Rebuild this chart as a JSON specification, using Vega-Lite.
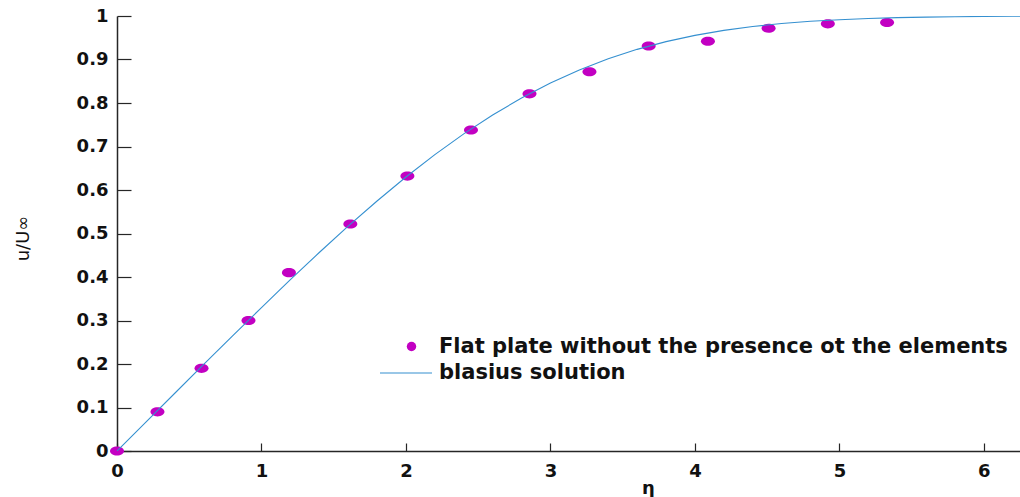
{
  "$schema": "https://vega.github.io/schema/vega-lite/v6.json",
  "autosize": "none",
  "padding": {"left": 117, "top": 16, "right": 0, "bottom": 46},
  "width": 903,
  "height": 435,
  "background": "white",
  "config": {
    "view": {"stroke": null},
    "font": "DejaVu Sans",
    "axis": {
      "grid": false,
      "labelFont": "DejaVu Sans",
      "labelFontWeight": "bold",
      "labelFontSize": 18,
      "labelColor": "#111111",
      "labelFlush": false,
      "titleFont": "DejaVu Sans",
      "titleFontWeight": "bold",
      "titleFontSize": 18,
      "titleColor": "#111111",
      "domainColor": "#262626",
      "domainWidth": 1.5,
      "tickColor": "#262626",
      "tickWidth": 1.2
    },
    "legend": {
      "labelFont": "DejaVu Sans",
      "labelFontWeight": "bold",
      "labelFontSize": 21,
      "labelColor": "#111111",
      "labelLimit": 0
    }
  },
  "datasets": {
    "exp": [
      {"eta": 0.0, "u": 0.0, "series": "Flat plate without the presence ot the elements"},
      {"eta": 0.28, "u": 0.09, "series": "Flat plate without the presence ot the elements"},
      {"eta": 0.585, "u": 0.19, "series": "Flat plate without the presence ot the elements"},
      {"eta": 0.91, "u": 0.30, "series": "Flat plate without the presence ot the elements"},
      {"eta": 1.19, "u": 0.41, "series": "Flat plate without the presence ot the elements"},
      {"eta": 1.615, "u": 0.522, "series": "Flat plate without the presence ot the elements"},
      {"eta": 2.01, "u": 0.632, "series": "Flat plate without the presence ot the elements"},
      {"eta": 2.45, "u": 0.738, "series": "Flat plate without the presence ot the elements"},
      {"eta": 2.855, "u": 0.821, "series": "Flat plate without the presence ot the elements"},
      {"eta": 3.27, "u": 0.872, "series": "Flat plate without the presence ot the elements"},
      {"eta": 3.68, "u": 0.931, "series": "Flat plate without the presence ot the elements"},
      {"eta": 4.09, "u": 0.942, "series": "Flat plate without the presence ot the elements"},
      {"eta": 4.51, "u": 0.972, "series": "Flat plate without the presence ot the elements"},
      {"eta": 4.92, "u": 0.982, "series": "Flat plate without the presence ot the elements"},
      {"eta": 5.33, "u": 0.985, "series": "Flat plate without the presence ot the elements"}
    ],
    "blasius": [
      {"eta": 0.0, "u": 0.0, "series": "blasius solution"},
      {"eta": 0.2, "u": 0.06641, "series": "blasius solution"},
      {"eta": 0.4, "u": 0.13277, "series": "blasius solution"},
      {"eta": 0.6, "u": 0.19894, "series": "blasius solution"},
      {"eta": 0.8, "u": 0.26471, "series": "blasius solution"},
      {"eta": 1.0, "u": 0.32979, "series": "blasius solution"},
      {"eta": 1.2, "u": 0.39378, "series": "blasius solution"},
      {"eta": 1.4, "u": 0.45627, "series": "blasius solution"},
      {"eta": 1.6, "u": 0.51676, "series": "blasius solution"},
      {"eta": 1.8, "u": 0.57477, "series": "blasius solution"},
      {"eta": 2.0, "u": 0.62977, "series": "blasius solution"},
      {"eta": 2.2, "u": 0.68132, "series": "blasius solution"},
      {"eta": 2.4, "u": 0.72899, "series": "blasius solution"},
      {"eta": 2.6, "u": 0.77246, "series": "blasius solution"},
      {"eta": 2.8, "u": 0.81152, "series": "blasius solution"},
      {"eta": 3.0, "u": 0.84605, "series": "blasius solution"},
      {"eta": 3.2, "u": 0.87609, "series": "blasius solution"},
      {"eta": 3.4, "u": 0.90177, "series": "blasius solution"},
      {"eta": 3.6, "u": 0.92333, "series": "blasius solution"},
      {"eta": 3.8, "u": 0.94112, "series": "blasius solution"},
      {"eta": 4.0, "u": 0.95552, "series": "blasius solution"},
      {"eta": 4.2, "u": 0.96696, "series": "blasius solution"},
      {"eta": 4.4, "u": 0.97587, "series": "blasius solution"},
      {"eta": 4.6, "u": 0.98269, "series": "blasius solution"},
      {"eta": 4.8, "u": 0.98779, "series": "blasius solution"},
      {"eta": 5.0, "u": 0.99155, "series": "blasius solution"},
      {"eta": 5.2, "u": 0.99425, "series": "blasius solution"},
      {"eta": 5.4, "u": 0.99616, "series": "blasius solution"},
      {"eta": 5.6, "u": 0.99748, "series": "blasius solution"},
      {"eta": 5.8, "u": 0.99838, "series": "blasius solution"},
      {"eta": 6.0, "u": 0.99898, "series": "blasius solution"},
      {"eta": 6.2, "u": 0.99937, "series": "blasius solution"},
      {"eta": 6.4, "u": 0.99961, "series": "blasius solution"}
    ]
  },
  "encoding": {
    "x": {
      "field": "eta", "type": "quantitative",
      "scale": {"domain": [0, 6.25], "nice": false, "zero": false},
      "axis": {
        "title": "η", "values": [0, 1, 2, 3, 4, 5, 6], "format": "~g",
        "tickSize": -8, "labelPadding": 19,
        "titleX": 531, "titleY": 42, "titleBaseline": "alphabetic", "titleAnchor": null, "titleAlign": "center"
      }
    },
    "y": {
      "field": "u", "type": "quantitative",
      "scale": {"domain": [0, 1], "nice": false},
      "axis": {
        "title": "u/U∞", "values": [0, 0.1, 0.2, 0.3, 0.4, 0.5, 0.6, 0.7, 0.8, 0.9, 1], "format": "~g",
        "tickSize": -14, "labelPadding": 23,
        "titleX": -85, "titleY": 222, "titleAnchor": null, "titleFontWeight": "normal"
      }
    }
  },
  "layer": [
    {
      "data": {"name": "exp"},
      "mark": {
        "type": "point", "filled": true, "opacity": 1, "strokeWidth": 0, "size": 196,
        "shape": "M -1 0 A 1 0.65 0 1 1 1 0 A 1 0.65 0 1 1 -1 0 Z"
      },
      "encoding": {
        "fill": {
          "field": "series", "type": "nominal",
          "scale": {"range": ["#c200c2"]},
          "legend": {
            "title": null, "orient": "none", "legendX": 284, "legendY": 320,
            "symbolType": "circle", "symbolSize": 90, "symbolStrokeWidth": 0,
            "labelOffset": 17, "padding": 0
          }
        }
      }
    },
    {
      "data": {"name": "blasius"},
      "mark": {"type": "line", "strokeWidth": 1.1, "clip": true},
      "encoding": {
        "stroke": {
          "field": "series", "type": "nominal",
          "scale": {"range": ["#3590d0"]},
          "legend": {
            "title": null, "orient": "none", "legendX": 262, "legendY": 330,
            "symbolType": "stroke", "symbolSize": 2704, "symbolStrokeWidth": 1.1,
            "labelOffset": 6, "padding": 0
          }
        }
      }
    }
  ]
}
